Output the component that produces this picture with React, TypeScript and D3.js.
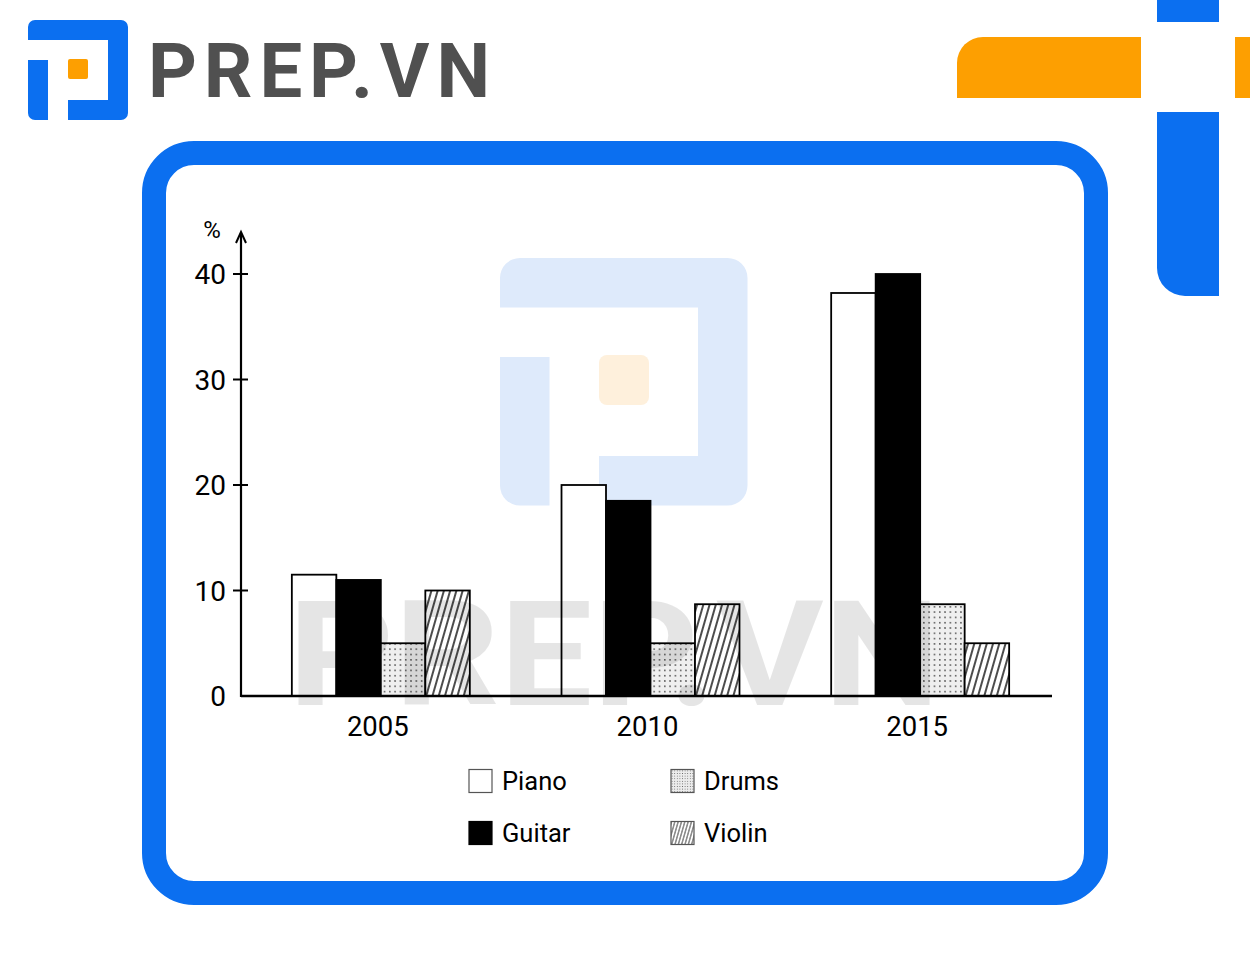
import React from "react";
import * as d3 from "d3";

const years = ["2005", "2010", "2015"];
const series = ["Piano", "Guitar", "Drums", "Violin"];
const piano = [11.5, 20, 38.2];
const guitar = [11, 18.5, 40];
const drums = [5, 5, 8.7];
const violin = [10, 8.7, 5];
const yTicks = [0, 10, 20, 30, 40];
const seriesValues = [piano, guitar, drums, violin];

const BLUE = "#0b6ff0";
const ORANGE = "#fd9f01";

const fills: Record<string, string> = {
  Piano: "#ffffff",
  Guitar: "#000000",
  Drums: "url(#dots)",
  Violin: "url(#hatch)",
};

function logoPaths(x: number, y: number, u: number, r: number) {
  const a = d3.path();
  a.moveTo(x, y + u);
  a.lineTo(x, y + r);
  a.arcTo(x, y, x + r, y, r);
  a.lineTo(x + 5 * u - r, y);
  a.arcTo(x + 5 * u, y, x + 5 * u, y + r, r);
  a.lineTo(x + 5 * u, y + 5 * u - r);
  a.arcTo(x + 5 * u, y + 5 * u, x + 5 * u - r, y + 5 * u, r);
  a.lineTo(x + 2 * u, y + 5 * u);
  a.lineTo(x + 2 * u, y + 4 * u);
  a.lineTo(x + 4 * u, y + 4 * u);
  a.lineTo(x + 4 * u, y + u);
  a.closePath();
  const b = d3.path();
  b.moveTo(x, y + 2 * u);
  b.lineTo(x + u, y + 2 * u);
  b.lineTo(x + u, y + 5 * u);
  b.lineTo(x + r, y + 5 * u);
  b.arcTo(x, y + 5 * u, x, y + 5 * u - r, r);
  b.closePath();
  return [a.toString(), b.toString()];
}

export default function App() {
  const y = d3.scaleLinear().domain([0, 40]).range([696, 274]);
  const x0 = d3.scaleBand().domain(years).range([246, 1055]).paddingInner(0.34).paddingOuter(0.17);
  const x1 = d3.scaleBand().domain(series).range([0, x0.bandwidth()]);
  const axisX = 241;

  const [la, lb] = logoPaths(28, 20, 20, 7);
  const [wa, wb] = logoPaths(500, 258, 49.5, 20);

  const orangePath = (() => {
    const p = d3.path();
    const r = 26;
    p.moveTo(957, 98);
    p.lineTo(957, 37 + r);
    p.arcTo(957, 37, 957 + r, 37, r);
    p.lineTo(1141, 37);
    p.lineTo(1141, 98);
    p.closePath();
    return p.toString();
  })();
  const bluePath = (() => {
    const p = d3.path();
    const r = 28;
    p.moveTo(1157, 112);
    p.lineTo(1219, 112);
    p.lineTo(1219, 296);
    p.lineTo(1157 + r, 296);
    p.arcTo(1157, 296, 1157, 296 - r, r);
    p.closePath();
    return p.toString();
  })();

  const legendItems = [
    { name: "Piano", bx: 469, cy: 781 },
    { name: "Drums", bx: 671, cy: 781 },
    { name: "Guitar", bx: 469, cy: 833 },
    { name: "Violin", bx: 671, cy: 833 },
  ];

  return (
    <svg
      width={1250}
      height={963}
      style={{ position: "absolute", left: 0, top: 0, background: "#fff" }}
      fontFamily="Roboto, sans-serif"
    >
      <defs>
        <pattern id="dots" width={5.3} height={5.3} patternUnits="userSpaceOnUse">
          <rect width={5.3} height={5.3} fill="#efefef" />
          <circle cx={2.6} cy={2.6} r={0.75} fill="#222" />
        </pattern>
        <pattern id="hatch" width={6} height={6} patternUnits="userSpaceOnUse" patternTransform="rotate(16)">
          <rect width={6} height={6} fill="#fff" />
          <line x1={3} y1={0} x2={3} y2={6} stroke="#000" strokeWidth={1.4} />
        </pattern>
        <pattern id="hatchL" width={3.2} height={3.2} patternUnits="userSpaceOnUse" patternTransform="rotate(16)">
          <rect width={3.2} height={3.2} fill="#fff" />
          <line x1={1.6} y1={0} x2={1.6} y2={3.2} stroke="#333" strokeWidth={0.9} />
        </pattern>
        <pattern id="dotsL" width={2.6} height={2.6} patternUnits="userSpaceOnUse">
          <rect width={2.6} height={2.6} fill="#ececec" />
          <circle cx={1.3} cy={1.3} r={0.5} fill="#555" />
        </pattern>
      </defs>

      {/* header logo */}
      <path d={la} fill={BLUE} />
      <path d={lb} fill={BLUE} />
      <rect x={68} y={59} width={20} height={20} rx={2} fill={ORANGE} />
      <text x={148} y={97} fontSize={76} fontWeight={700} fill="#505050" textLength={342} lengthAdjust="spacing" fontFamily="Roboto, sans-serif">
        PREP.VN
      </text>

      {/* top-right decorations */}
      <path d={orangePath} fill={ORANGE} />
      <rect x={1235} y={37} width={15} height={61} fill={ORANGE} />
      <rect x={1157} y={0} width={62} height={22} fill={BLUE} />
      <path d={bluePath} fill={BLUE} />

      {/* frame */}
      <rect x={154} y={153} width={942} height={740} rx={40} fill="#fff" stroke={BLUE} strokeWidth={24} />

      {/* light logo watermark */}
      <path d={wa} fill="#deeafb" />
      <path d={wb} fill="#deeafb" />
      <rect x={599} y={355} width={50} height={50} rx={8} fill="#fef0dc" />

      {/* bars */}
      {years.map((yr, i) => (
        <g key={yr} transform={`translate(${x0(yr)},0)`}>
          {series.map((s, j) => {
            const v = seriesValues[j][i];
            return (
              <rect
                key={s}
                x={x1(s)}
                y={y(v)}
                width={x1.bandwidth()}
                height={y(0) - y(v)}
                fill={fills[s]}
                stroke="#000"
                strokeWidth={1.8}
              />
            );
          })}
        </g>
      ))}

      {/* text watermark */}
      <text x={288} y={705} fontSize={146} fontWeight={700} fill="#000" fillOpacity={0.1} textLength={652} lengthAdjust="spacingAndGlyphs">
        PREP.VN
      </text>

      {/* axes */}
      <line x1={axisX} y1={y(0)} x2={1052} y2={y(0)} stroke="#000" strokeWidth={2.4} />
      <line x1={axisX} y1={y(0) + 1} x2={axisX} y2={234} stroke="#000" strokeWidth={2.2} />
      <path d={`M${axisX - 5},${243} L${axisX},${232} L${axisX + 5},${243}`} fill="none" stroke="#000" strokeWidth={2} />
      {yTicks.map((t) => (
        <g key={t}>
          {t > 0 && <line x1={233} x2={248} y1={y(t)} y2={y(t)} stroke="#000" strokeWidth={2} />}
          <text x={226} y={y(t)} dy="0.36em" textAnchor="end" fontSize={28} fill="#000">
            {t}
          </text>
        </g>
      ))}
      <text x={212} y={238} textAnchor="middle" fontSize={24} fill="#000">
        %
      </text>
      {years.map((yr) => (
        <text key={yr} x={(x0(yr) as number) + x0.bandwidth() / 2 - 3} y={726} dy="0.36em" textAnchor="middle" fontSize={27.5} fill="#000">
          {yr}
        </text>
      ))}

      {/* legend */}
      {legendItems.map((it) => (
        <g key={it.name}>
          <rect
            x={it.bx}
            y={it.cy - 11.5}
            width={23}
            height={23}
            fill={it.name === "Drums" ? "url(#dotsL)" : it.name === "Violin" ? "url(#hatchL)" : fills[it.name]}
            stroke={it.name === "Guitar" ? "#000" : "#555"}
            strokeWidth={1.2}
          />
          <text x={it.bx + 33} y={it.cy} dy="0.36em" fontSize={25.5} fill="#000">
            {it.name}
          </text>
        </g>
      ))}
    </svg>
  );
}
